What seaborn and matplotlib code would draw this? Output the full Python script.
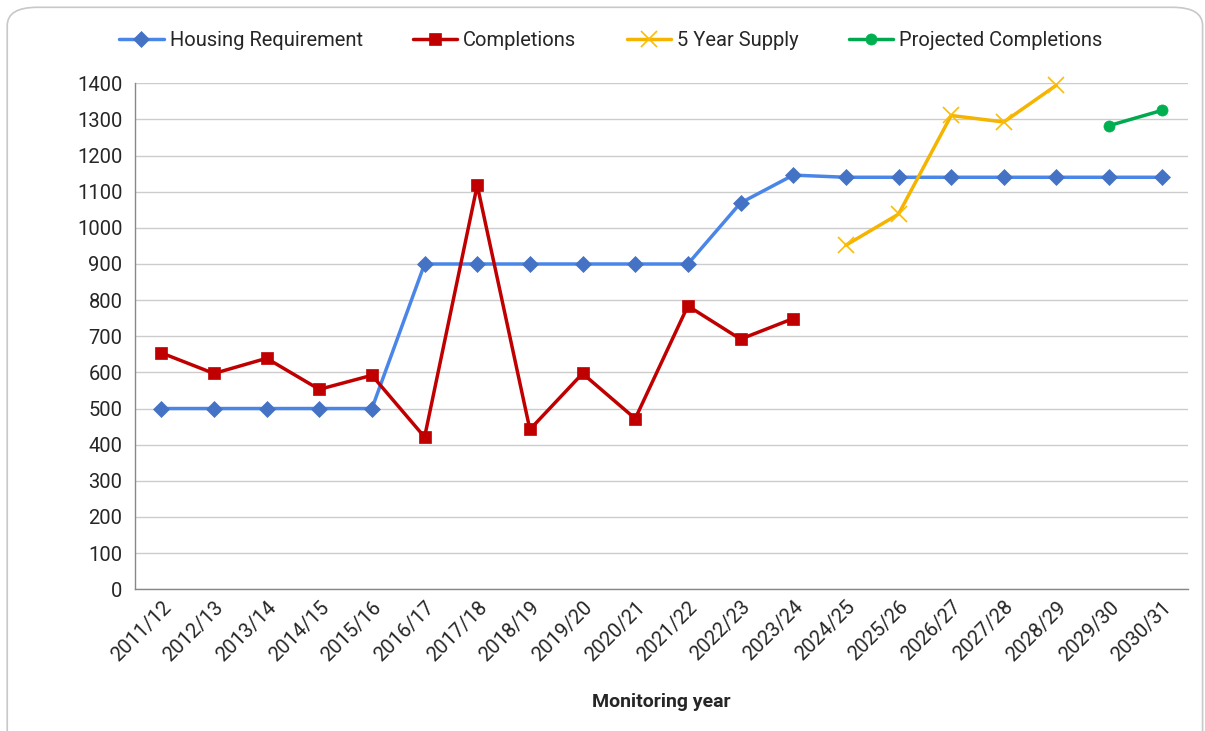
import numpy as np
import pandas as pd
import matplotlib.pyplot as plt
import seaborn as sns
from matplotlib.patches import FancyBboxPatch

years = ['2011/12', '2012/13', '2013/14', '2014/15', '2015/16', '2016/17', '2017/18',
         '2018/19', '2019/20', '2020/21', '2021/22', '2022/23', '2023/24', '2024/25',
         '2025/26', '2026/27', '2027/28', '2028/29', '2029/30', '2030/31']

housing_req = [500, 500, 500, 500, 500, 900, 900, 900, 900, 900, 900, 1069, 1146,
               1140, 1140, 1140, 1140, 1140, 1140, 1140]
completions = [654, 597, 639, 553, 592, 421, 1118, 442, 597, 472, 784, 692, 749,
               None, None, None, None, None, None, None]
supply_5yr = [None] * 13 + [952, 1038, 1311, 1293, 1395, None, None]
projected = [None] * 18 + [1283, 1325]

sns.set_theme(style='white')
plt.rcParams['font.family'] = ['Roboto', 'DejaVu Sans']

fig = plt.figure(figsize=(12.05, 7.31), dpi=100)
ax = fig.add_axes([0.112, 0.194, 0.874, 0.692])

# rounded card border (bottom edge runs off the image)
fig.patches.append(FancyBboxPatch((0.006, -0.05), 0.992, 1.04, boxstyle='round,pad=0,rounding_size=0.025',
                                  transform=fig.transFigure, fill=False, edgecolor='#c8c8c8', lw=1.2))

x = np.arange(len(years))
series = [
    ('Housing Requirement', housing_req, '#4a86e8', 'D', '#4472c4', 8),
    ('Completions', completions, '#c00000', 's', '#c00000', 9),
    ('5 Year Supply', supply_5yr, '#f4b400', 'x', '#fbbc04', 11),
    ('Projected Completions', projected, '#00a94f', 'o', '#00b050', 8),
]

for name, vals, col, mk, mcol, ms in series:
    df = pd.DataFrame({'x': x, 'y': pd.array(vals, dtype='Float64')}).dropna()
    df['y'] = df['y'].astype(float)
    sns.lineplot(data=df, x='x', y='y', ax=ax, color=col, lw=2.5, marker=mk,
                 markersize=ms, markerfacecolor=mcol, markeredgecolor=mcol,
                 markeredgewidth=1.2 if mk == 'x' else 0.5, label=name, legend=False,
                 clip_on=False)

ax.set_xlim(-0.5, len(years) - 0.5)
ax.set_ylim(0, 1400)
ax.set_yticks(range(0, 1401, 100))
ax.set_xticks(x)
ax.set_xticklabels(years, rotation=45, ha='right', rotation_mode='anchor', fontsize=14.5)
ax.tick_params(axis='y', labelsize=14.5, length=0, pad=9)
ax.tick_params(axis='x', length=0, pad=6)
ax.yaxis.grid(True, color='#cccccc', lw=1)
ax.set_axisbelow(True)
for s in ['top', 'right']:
    ax.spines[s].set_visible(False)
for s in ['left', 'bottom']:
    ax.spines[s].set_color('#888888')
    ax.spines[s].set_linewidth(1)
ax.set_ylabel('')
ax.set_xlabel('Monitoring year', fontsize=14, fontweight='bold', labelpad=20)

handles, labels = ax.get_legend_handles_labels()
fig.legend(handles, labels, loc='center', bbox_to_anchor=(0.507, 0.945), ncol=4,
           frameon=False, fontsize=14.5, handlelength=2.2, columnspacing=2.5, handletextpad=0.3)

fig.savefig('out.png', dpi=100)
